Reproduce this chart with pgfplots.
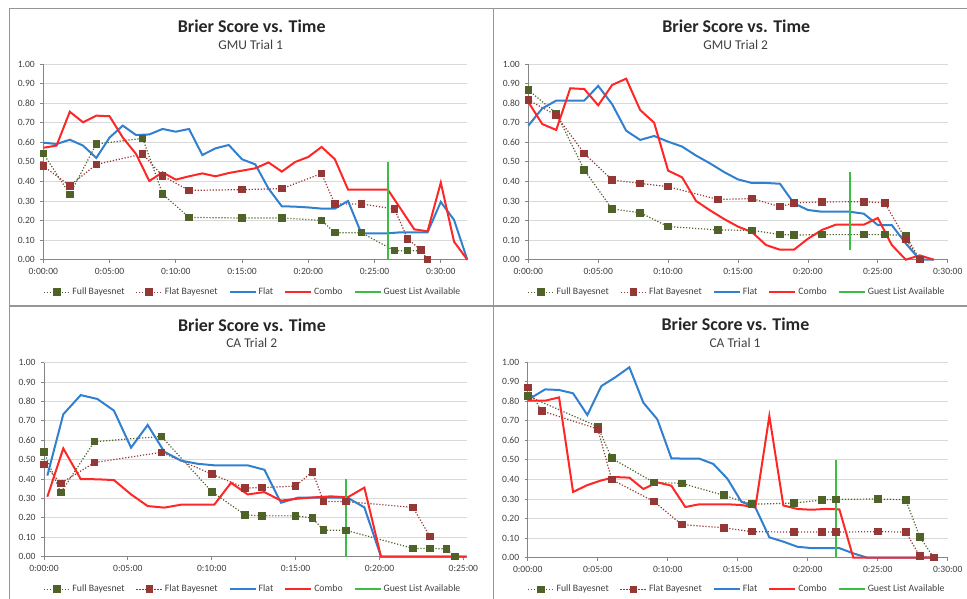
\documentclass[border=0pt]{standalone}
\usepackage{pgfplots}
\pgfplotsset{compat=1.18}
\usepackage{fontspec}
\setmainfont{Carlito}
\definecolor{fullbn}{RGB}{79,98,40}
\definecolor{flatbn}{RGB}{149,55,53}
\definecolor{flatc}{RGB}{49,128,208}
\definecolor{combo}{RGB}{255,38,38}
\definecolor{guest}{RGB}{60,190,70}
\definecolor{gridc}{RGB}{217,217,217}
\definecolor{axc}{RGB}{134,134,134}
\definecolor{txt}{RGB}{64,64,64}
\definecolor{frame}{RGB}{150,150,150}

\pgfplotsset{
 brier/.style={
  scale only axis,
  ymin=0, ymax=1,
  ytick={0,0.1,0.2,0.3,0.4,0.5,0.6,0.7,0.8,0.9,1.0},
  yticklabels={0.00,0.10,0.20,0.30,0.40,0.50,0.60,0.70,0.80,0.90,1.00},
  ymajorgrids, grid style={gridc, line width=0.8bp},
  axis x line*=bottom, axis y line*=left,
  axis line style={axc, line width=0.8bp},
  tick align=outside, major tick length=3bp, tick style={axc, line width=0.8bp},
  ticklabel style={font=\fontsize{9.6}{11}\selectfont, text=txt},
  yticklabel style={xshift=-2bp},
  xticklabel style={yshift=-2bp},
  clip=false,
  legend columns=5,
  legend style={draw=none, fill=none, font=\fontsize{9.8}{11}\selectfont, text=txt,
    anchor=center, /tikz/every even column/.append style={column sep=9bp}},
  legend cell align=left,
  legend image code/.code={\draw[mark repeat=2,mark phase=2,##1] plot coordinates {(0bp,0bp) (13bp,0bp) (26bp,0bp)};},
 },
 fbn/.style={color=fullbn, line width=1.2bp, dash pattern=on 1.2bp off 1.8bp, mark=square*, mark size=3.2bp, mark options={solid, fill=fullbn}},
 lbn/.style={color=flatbn, line width=1.2bp, dash pattern=on 1.2bp off 1.8bp, mark=square*, mark size=3.2bp, mark options={solid, fill=flatbn}},
 flt/.style={color=flatc, line width=2bp, mark=none},
 cmb/.style={color=combo, line width=2bp, mark=none},
 gst/.style={color=guest, line width=2bp, mark=none},
}

\begin{document}
\begin{tikzpicture}[x=1bp,y=1bp]
\useasboundingbox (0,0) rectangle (967,599);
% frames
\draw[frame, line width=1.5bp] (9.5,0) -- (9.5,590.5) -- (967,590.5);
\draw[frame, line width=1.5bp] (493.5,0) -- (493.5,590.5);
\draw[frame, line width=1.5bp] (9.5,293) -- (967,293);

% titles
\node[font=\fontsize{18}{20}\selectfont\bfseries, text=black!85] at (251.7,572.3) {Brier Score vs. Time};
\node[font=\fontsize{13.5}{15}\selectfont, text=txt] at (250.7,554) {GMU Trial 1};
\node[font=\fontsize{18}{20}\selectfont\bfseries, text=black!85] at (736.3,572.3) {Brier Score vs. Time};
\node[font=\fontsize{13.5}{15}\selectfont, text=txt] at (735.7,554) {GMU Trial 2};
\node[font=\fontsize{18}{20}\selectfont\bfseries, text=black!85] at (252,274) {Brier Score vs. Time};
\node[font=\fontsize{13.5}{15}\selectfont, text=txt] at (251.7,255.7) {CA Trial 2};
\node[font=\fontsize{18}{20}\selectfont\bfseries, text=black!85] at (735.5,274.7) {Brier Score vs. Time};
\node[font=\fontsize{13.5}{15}\selectfont, text=txt] at (735,256) {CA Trial 1};

% ---------------- Panel 1: GMU Trial 1
\begin{axis}[brier, at={(43.3bp,339.3bp)}, anchor=south west, width=424bp, height=195.7bp,
  xmin=0, xmax=32, xtick={0,5,10,15,20,25,30},
  xticklabels={0:00:00,0:05:00,0:10:00,0:15:00,0:20:00,0:25:00,0:30:00},
  legend style={at={(0.494,-0.1666)}}]
\addplot[fbn] coordinates {(0,0.543) (2,0.334) (4,0.591) (7.5,0.62) (9,0.336) (11,0.216) (15,0.213) (18,0.213) (21,0.201) (22,0.138) (24,0.138) (26.5,0.046) (27.5,0.046) (28.5,0.046)};
\addlegendentry{Full Bayesnet}
\addplot[lbn] coordinates {(0,0.479) (2,0.378) (4,0.487) (7.5,0.54) (9,0.428) (11,0.354) (15,0.358) (18,0.363) (21,0.44) (22,0.285) (24,0.285) (26.5,0.259) (27.5,0.107) (28.5,0.049) (29,0)};
\addlegendentry{Flat Bayesnet}
\addplot[flt] coordinates {(0,0.598) (1,0.591) (2,0.613) (3,0.583) (4,0.52) (5,0.624) (6,0.685) (7,0.637) (8,0.64) (9,0.668) (10,0.654) (11,0.668) (12,0.535) (13,0.569) (14,0.586) (15,0.513) (16,0.487) (17,0.363) (18,0.273) (19,0.271) (20,0.267) (21,0.261) (22,0.261) (23,0.30) (24,0.135) (25,0.135) (26,0.135) (27,0.14) (28,0.14) (29,0.14) (30,0.295) (31,0.203) (32,0)};
\addlegendentry{Flat}
\addplot[cmb] coordinates {(0,0.572) (1,0.583) (2,0.756) (3,0.702) (4,0.736) (5,0.733) (6,0.624) (7,0.54) (8,0.402) (9,0.446) (10,0.409) (11,0.426) (12,0.441) (13,0.426) (14,0.443) (15,0.455) (16,0.467) (17,0.497) (18,0.45) (19,0.499) (20,0.525) (21,0.576) (22,0.514) (23,0.358) (24,0.358) (25,0.358) (26,0.358) (27,0.257) (28,0.155) (29,0.145) (30,0.394) (31,0.092) (32,0)};
\addlegendentry{Combo}
\addplot[gst] coordinates {(26,0) (26,0.5)};
\addlegendentry{Guest List Available}
\end{axis}

% ---------------- Panel 2: GMU Trial 2
\begin{axis}[brier, at={(528.3bp,339.3bp)}, anchor=south west, width=419.4bp, height=195.7bp,
  xmin=0, xmax=30, xtick={0,5,10,15,20,25,30},
  xticklabels={0:00:00,0:05:00,0:10:00,0:15:00,0:20:00,0:25:00,0:30:00},
  legend style={at={(0.4976,-0.1666)}}]
\addplot[fbn] coordinates {(0,0.867) (2,0.748) (4,0.458) (6,0.259) (8,0.24) (10,0.169) (13.55,0.152) (16,0.15) (18,0.129) (19,0.126) (21,0.128) (24,0.128) (25.5,0.128) (27,0.124) (28,0)};
\addlegendentry{Full Bayesnet}
\addplot[lbn] coordinates {(0,0.816) (2,0.738) (4,0.543) (6,0.407) (8,0.39) (10,0.373) (13.55,0.308) (16,0.312) (18,0.271) (19,0.29) (21,0.295) (24,0.296) (25.5,0.29) (27,0.104) (28,0)};
\addlegendentry{Flat Bayesnet}
\addplot[flt] coordinates {(0,0.685) (1,0.773) (2,0.813) (3,0.813) (4,0.813) (5,0.888) (6,0.794) (7,0.659) (8,0.612) (9,0.632) (10,0.603) (11,0.578) (12,0.532) (13,0.492) (14,0.448) (15,0.41) (16,0.392) (17,0.392) (18,0.388) (19,0.288) (20,0.254) (21,0.245) (22,0.245) (23,0.245) (24,0.235) (25,0.177) (26,0.177) (27,0.083) (28,0) (29,0)};
\addlegendentry{Flat}
\addplot[cmb] coordinates {(0,0.806) (1,0.693) (2,0.663) (3,0.876) (4,0.872) (5,0.789) (6,0.893) (7,0.925) (8,0.765) (9,0.70) (10,0.455) (11,0.421) (12,0.30) (13,0.252) (14,0.208) (15,0.169) (16,0.141) (17,0.075) (18,0.051) (19,0.051) (20,0.107) (21,0.152) (22,0.179) (23,0.179) (24,0.179) (25,0.213) (26,0.075) (27,0) (28,0.022) (29,0)};
\addlegendentry{Combo}
\addplot[gst] coordinates {(23,0.05) (23,0.45)};
\addlegendentry{Guest List Available}
\end{axis}

% ---------------- Panel 3: CA Trial 2
\begin{axis}[brier, at={(44bp,42.3bp)}, anchor=south west, width=422.7bp, height=194bp,
  xmin=0, xmax=25.2, xtick={0,5,10,15,20,25},
  xticklabels={0:00:00,0:05:00,0:10:00,0:15:00,0:20:00,0:25:00},
  legend style={at={(0.494,-0.168)}}]
\addplot[fbn] coordinates {(0,0.54) (1,0.33) (3,0.593) (7,0.62) (10,0.335) (12,0.215) (13,0.211) (15,0.211) (16,0.199) (16.67,0.137) (18,0.136) (22,0.043) (23,0.043) (24,0.04) (24.5,0)};
\addlegendentry{Full Bayesnet}
\addplot[lbn] coordinates {(0,0.476) (1,0.378) (3,0.485) (7,0.538) (10,0.426) (12,0.354) (13,0.356) (15,0.364) (16,0.438) (16.67,0.284) (18,0.284) (22,0.254) (23,0.105)};
\addlegendentry{Flat Bayesnet}
\addplot[flt] coordinates {(0.2,0.418) (1.15,0.734) (2.19,0.833) (3.18,0.813) (4.17,0.753) (5.19,0.562) (6.18,0.679) (7.17,0.541) (8.17,0.495) (9.16,0.479) (10.15,0.471) (11.15,0.471) (12.14,0.471) (13.14,0.448) (14.13,0.278) (15.12,0.304) (16.12,0.304) (17.11,0.304) (18.1,0.304) (19.1,0.254) (20.09,0) (25.2,0)};
\addlegendentry{Flat}
\addplot[cmb] coordinates {(0.2,0.309) (1.15,0.558) (2.19,0.40) (3.18,0.399) (4.17,0.395) (5.19,0.321) (6.18,0.261) (7.17,0.253) (8.17,0.268) (9.16,0.268) (10.15,0.268) (11.15,0.381) (12.14,0.321) (13.14,0.333) (14.13,0.289) (15.12,0.299) (16.12,0.306) (17.11,0.311) (18.1,0.306) (19.1,0.356) (20.09,0) (25.2,0)};
\addlegendentry{Combo}
\addplot[gst] coordinates {(18,0) (18,0.4)};
\addlegendentry{Guest List Available}
\end{axis}

% ---------------- Panel 4: CA Trial 1
\begin{axis}[brier, at={(527.7bp,41.3bp)}, anchor=south west, width=420bp, height=195.7bp,
  xmin=0, xmax=30, xtick={0,5,10,15,20,25,30},
  xticklabels={0:00:00,0:05:00,0:10:00,0:15:00,0:20:00,0:25:00,0:30:00},
  legend style={at={(0.498,-0.1615)}}]
\addplot[fbn] coordinates {(0,0.826) (5,0.67) (6,0.508) (9,0.385) (11,0.38) (14,0.319) (16,0.273) (19,0.279) (21,0.295) (22,0.298) (25,0.30) (27,0.296) (28,0.107) (29,0)};
\addlegendentry{Full Bayesnet}
\addplot[lbn] coordinates {(0,0.869) (1,0.75) (5,0.658) (6,0.399) (9,0.288) (11,0.169) (14,0.153) (16,0.133) (19,0.131) (21,0.131) (22,0.131) (25,0.133) (27,0.131) (28,0.009) (29,0)};
\addlegendentry{Flat Bayesnet}
\addplot[flt] coordinates {(0,0.806) (1.24,0.86) (2.24,0.857) (3.24,0.84) (4.26,0.729) (5.26,0.877) (6.26,0.922) (7.26,0.973) (8.26,0.792) (9.26,0.707) (10.26,0.508) (11.26,0.506) (12.26,0.506) (13.26,0.479) (14.26,0.404) (15.26,0.286) (16.26,0.257) (17.26,0.104) (18.26,0.082) (19.26,0.056) (20.26,0.049) (21.26,0.049) (22.26,0.049) (23.26,0.022) (24.26,0) (29,0)};
\addlegendentry{Flat}
\addplot[cmb] coordinates {(0,0.802) (1.24,0.802) (2.24,0.819) (3.24,0.336) (4.26,0.371) (5.26,0.395) (6.26,0.412) (7.26,0.409) (8.26,0.351) (9.26,0.385) (10.26,0.368) (11.26,0.259) (12.26,0.273) (13.26,0.273) (14.26,0.273) (15.26,0.269) (16.26,0.257) (17.26,0.724) (18.26,0.267) (19.26,0.249) (20.26,0.245) (21.26,0.249) (22.26,0.247) (23.26,0) (29,0)};
\addlegendentry{Combo}
\addplot[gst] coordinates {(22,0) (22,0.5)};
\addlegendentry{Guest List Available}
\end{axis}
\end{tikzpicture}
\end{document}
